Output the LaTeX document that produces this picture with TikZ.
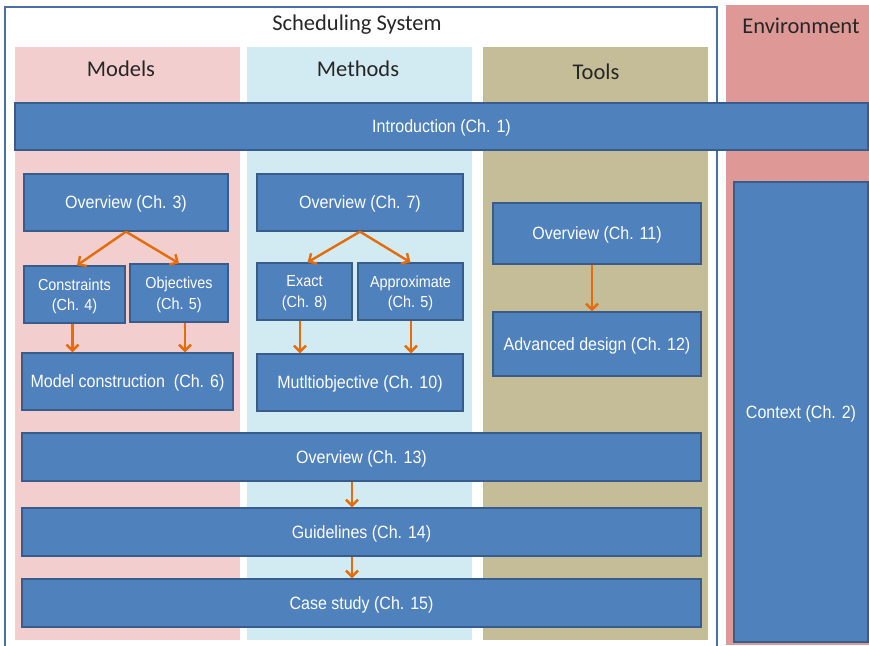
\documentclass[tikz,border=0pt]{standalone}
\usepackage{fontspec}
\setmainfont{Carlito}
\newfontfamily\boxfont[FakeStretch=0.9]{Liberation Sans}
\usetikzlibrary{arrows.meta}
\definecolor{boxblue}{HTML}{4F81BD}
\definecolor{boxedge}{HTML}{385D8A}
\definecolor{modbg}{HTML}{F2CECE}
\definecolor{metbg}{HTML}{D2EAF1}
\definecolor{toolbg}{HTML}{C4BD97}
\definecolor{envbg}{HTML}{DE9896}
\definecolor{frameblue}{HTML}{4A6FA8}
\definecolor{arrorange}{HTML}{E46C0A}
\begin{document}
\begin{tikzpicture}[x=1pt,y=-1pt,
  bluebox/.style={draw=boxedge,line width=1.3pt,fill=boxblue,text=white,
    font=\boxfont\fontsize{17.8}{19}\selectfont,inner sep=0pt,align=center,text depth=0pt},
  smallbox/.style={bluebox,font=\boxfont\fontsize{16}{20.5}\selectfont},
  header/.style={font=\fontsize{22.5}{25}\selectfont,text=black!85},
  arr/.style={draw=arrorange,line width=2.4pt,-{Straight Barb[length=6pt,width=12pt]}}]
\useasboundingbox (0,0) rectangle (869,645);
% backgrounds
\fill[white] (0,0) rectangle (869,645);
\draw[frameblue,line width=1.6pt] (5,650) -- (5,7) -- (717,7) -- (717,650);
\fill[envbg] (726,5) rectangle (869,645);
\fill[modbg] (15,47) rectangle (240,640);
\fill[metbg] (247,47) rectangle (472,640);
\fill[toolbg] (483,47) rectangle (708,640);
% headers
\node[header] (hsys) at (357,25) {Scheduling System};
\node[header] (henv) at (801,26) {Environment};
\node[header] (hmod) at (121,69) {Models};
\node[header] (hmet) at (358,69) {Methods};
\node[header] (htool) at (596,72) {Tools};
% boxes
\node[bluebox,minimum width=853pt,minimum height=47pt] (intro) at (441.5,126.5) {Introduction (Ch. 1)};
\node[bluebox,minimum width=134pt,minimum height=460pt] (ctx) at (801,412) {Context (Ch. 2)};
\node[bluebox,minimum width=204pt,minimum height=57pt] (ov3) at (126,202.5) {Overview (Ch. 3)};
\node[smallbox,minimum width=101pt,minimum height=57pt] (con) at (74.5,294.5) {Constraints\\(Ch. 4)};
\node[smallbox,minimum width=98pt,minimum height=58pt] (obj) at (179,293) {Objectives\\(Ch. 5)};
\node[bluebox,minimum width=211pt,minimum height=57pt] (mc) at (127.5,381.5) {Model construction\ \ (Ch. 6)};
\node[bluebox,minimum width=206pt,minimum height=57pt] (ov7) at (360,202.5) {Overview (Ch. 7)};
\node[smallbox,minimum width=95pt,minimum height=57pt] (exact) at (304.5,291.5) {Exact\\(Ch. 8)};
\node[smallbox,minimum width=105pt,minimum height=57pt] (approx) at (410.5,291.5) {Approximate\\(Ch. 5)};
\node[bluebox,minimum width=206pt,minimum height=57pt] (multi) at (360,382.5) {Mutltiobjective (Ch. 10)};
\node[bluebox,minimum width=208pt,minimum height=61pt] (ov11) at (597,233.5) {Overview (Ch. 11)};
\node[bluebox,minimum width=208pt,minimum height=64pt] (adv) at (597,344) {Advanced design (Ch. 12)};
\node[bluebox,minimum width=679pt,minimum height=48pt] (ov13) at (361.5,457) {Overview (Ch. 13)};
\node[bluebox,minimum width=679pt,minimum height=48pt] (guide) at (361.5,532) {Guidelines (Ch. 14)};
\node[bluebox,minimum width=679pt,minimum height=48pt] (case) at (361.5,603) {Case study (Ch. 15)};
% arrows
\draw[arr] (ov3.south) -- ([xshift=2.5pt]con.north);
\draw[arr] (ov3.south) -- (obj.north);
\draw[arr] ([xshift=-2pt]con.south) -- ([xshift=-2pt]con.south |- mc.north);
\draw[arr] ([xshift=6pt]obj.south) -- ([xshift=6pt]obj.south |- mc.north);
\draw[arr] (ov7.south) -- ([xshift=3pt]exact.north);
\draw[arr] (ov7.south) -- (approx.north);
\draw[arr] ([xshift=-4.5pt]exact.south) -- ([xshift=-4.5pt]exact.south |- multi.north);
\draw[arr] ([xshift=0.5pt]approx.south) -- ([xshift=0.5pt]approx.south |- multi.north);
\draw[arr] ([xshift=-5pt]ov11.south) -- ([xshift=-5pt]ov11.south |- adv.north);
\draw[arr] ([xshift=-9.5pt]ov13.south) -- ([xshift=-9.5pt]ov13.south |- guide.north);
\draw[arr] ([xshift=-9.5pt]guide.south) -- ([xshift=-9.5pt]guide.south |- case.north);
\end{tikzpicture}
\end{document}
